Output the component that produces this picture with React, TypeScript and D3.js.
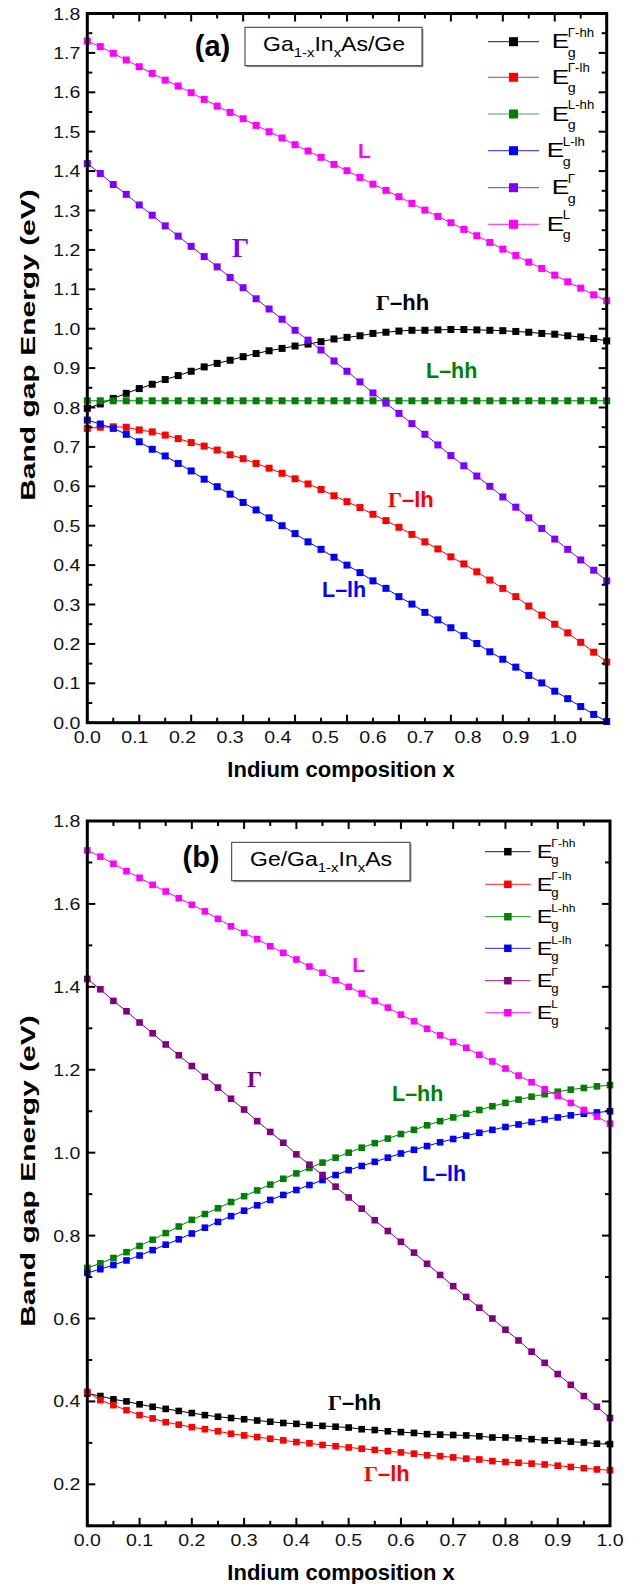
import React from "react";
import * as d3 from "d3";

// ---------- data ----------
const composition = [
  0, 0.025, 0.05, 0.075, 0.1, 0.125, 0.15, 0.175, 0.2, 0.225, 0.25, 0.275, 0.3, 0.325, 0.35, 0.375, 0.4,
  0.425, 0.45, 0.475, 0.5, 0.525, 0.55, 0.575, 0.6, 0.625, 0.65, 0.675, 0.7, 0.725, 0.75, 0.775, 0.8,
  0.825, 0.85, 0.875, 0.9, 0.925, 0.95, 0.975, 1.0,
];

// panel (a) Ga1-xInxAs/Ge
const aGhh = [0.798, 0.809, 0.823, 0.836, 0.848, 0.859, 0.871, 0.881, 0.892, 0.903, 0.912, 0.92, 0.929, 0.937, 0.944, 0.95, 0.956, 0.961, 0.967, 0.974, 0.978, 0.982, 0.988, 0.991, 0.994, 0.996, 0.996, 0.997, 0.998, 0.998, 0.997, 0.996, 0.995, 0.993, 0.991, 0.988, 0.986, 0.982, 0.979, 0.975, 0.969];
const aGlh = [0.747, 0.75, 0.751, 0.75, 0.743, 0.738, 0.73, 0.721, 0.711, 0.702, 0.692, 0.68, 0.67, 0.658, 0.646, 0.633, 0.619, 0.606, 0.592, 0.576, 0.561, 0.546, 0.529, 0.513, 0.496, 0.478, 0.459, 0.441, 0.421, 0.403, 0.383, 0.362, 0.341, 0.32, 0.296, 0.273, 0.25, 0.228, 0.204, 0.179, 0.154];
const aLhh = [0.817, 0.817, 0.817, 0.817, 0.817, 0.817, 0.817, 0.817, 0.817, 0.817, 0.817, 0.817, 0.817, 0.817, 0.817, 0.817, 0.817, 0.817, 0.817, 0.817, 0.817, 0.817, 0.817, 0.817, 0.817, 0.817, 0.817, 0.817, 0.817, 0.817, 0.817, 0.817, 0.817, 0.817, 0.817, 0.817, 0.817, 0.817, 0.817, 0.817, 0.817];
const aLlh = [0.768, 0.758, 0.747, 0.732, 0.713, 0.694, 0.677, 0.658, 0.639, 0.618, 0.599, 0.58, 0.559, 0.54, 0.52, 0.5, 0.48, 0.459, 0.44, 0.42, 0.4, 0.381, 0.36, 0.341, 0.32, 0.301, 0.28, 0.261, 0.241, 0.221, 0.201, 0.18, 0.161, 0.141, 0.12, 0.101, 0.08, 0.061, 0.041, 0.021, 0.003];
const aGamma = [1.419, 1.394, 1.366, 1.341, 1.314, 1.288, 1.261, 1.235, 1.209, 1.183, 1.157, 1.13, 1.104, 1.076, 1.05, 1.024, 0.996, 0.971, 0.946, 0.918, 0.892, 0.865, 0.837, 0.811, 0.785, 0.759, 0.732, 0.705, 0.678, 0.652, 0.626, 0.6, 0.573, 0.547, 0.52, 0.493, 0.466, 0.44, 0.413, 0.387, 0.36];
const aL = [1.73, 1.716, 1.699, 1.682, 1.665, 1.648, 1.631, 1.616, 1.599, 1.582, 1.565, 1.549, 1.533, 1.516, 1.5, 1.484, 1.467, 1.451, 1.435, 1.417, 1.401, 1.384, 1.367, 1.351, 1.335, 1.318, 1.301, 1.285, 1.269, 1.252, 1.236, 1.219, 1.202, 1.186, 1.169, 1.153, 1.136, 1.119, 1.103, 1.086, 1.071];

// panel (b) Ge/Ga1-xInxAs
const bGhh = [0.419, 0.413, 0.405, 0.4, 0.393, 0.387, 0.382, 0.377, 0.372, 0.367, 0.363, 0.36, 0.357, 0.354, 0.351, 0.348, 0.346, 0.343, 0.341, 0.339, 0.337, 0.333, 0.331, 0.328, 0.326, 0.324, 0.321, 0.32, 0.319, 0.318, 0.316, 0.313, 0.313, 0.311, 0.309, 0.306, 0.305, 0.303, 0.301, 0.298, 0.297];
const bGlh = [0.423, 0.403, 0.391, 0.379, 0.367, 0.359, 0.35, 0.344, 0.338, 0.333, 0.328, 0.322, 0.318, 0.314, 0.31, 0.306, 0.302, 0.299, 0.295, 0.292, 0.289, 0.286, 0.283, 0.28, 0.277, 0.274, 0.27, 0.268, 0.265, 0.262, 0.26, 0.256, 0.254, 0.252, 0.25, 0.248, 0.245, 0.242, 0.239, 0.236, 0.234];
const bLhh = [0.722, 0.733, 0.746, 0.76, 0.775, 0.79, 0.806, 0.822, 0.838, 0.852, 0.866, 0.881, 0.895, 0.909, 0.923, 0.937, 0.95, 0.963, 0.976, 0.988, 1.0, 1.012, 1.023, 1.034, 1.045, 1.055, 1.066, 1.076, 1.085, 1.094, 1.103, 1.112, 1.12, 1.128, 1.135, 1.141, 1.147, 1.152, 1.156, 1.16, 1.163];
const bLlh = [0.71, 0.719, 0.729, 0.74, 0.752, 0.765, 0.778, 0.791, 0.805, 0.819, 0.833, 0.847, 0.86, 0.873, 0.886, 0.898, 0.91, 0.922, 0.934, 0.946, 0.958, 0.968, 0.978, 0.988, 0.998, 1.007, 1.016, 1.025, 1.033, 1.041, 1.048, 1.055, 1.062, 1.068, 1.074, 1.08, 1.085, 1.09, 1.094, 1.097, 1.1];
const bGamma = [1.419, 1.394, 1.366, 1.341, 1.314, 1.288, 1.261, 1.235, 1.209, 1.183, 1.157, 1.13, 1.104, 1.076, 1.05, 1.024, 0.996, 0.971, 0.946, 0.918, 0.892, 0.865, 0.837, 0.811, 0.785, 0.759, 0.732, 0.705, 0.678, 0.652, 0.626, 0.6, 0.573, 0.547, 0.52, 0.493, 0.466, 0.44, 0.413, 0.387, 0.36];
const bL = [1.729, 1.714, 1.697, 1.679, 1.663, 1.646, 1.63, 1.614, 1.598, 1.582, 1.564, 1.546, 1.53, 1.515, 1.498, 1.482, 1.466, 1.449, 1.434, 1.416, 1.4, 1.384, 1.366, 1.35, 1.333, 1.317, 1.299, 1.283, 1.267, 1.253, 1.236, 1.22, 1.203, 1.186, 1.17, 1.153, 1.137, 1.12, 1.103, 1.087, 1.07];

const seriesSup = ["\u0393-hh", "\u0393-lh", "L-hh", "L-lh", "\u0393", "L"];
const colorsA = ["#000000", "#ff0000", "#008000", "#0000ff", "#8000ff", "#ff00ff"];
const colorsB = ["#000000", "#ff0000", "#008000", "#0000ff", "#800080", "#ff00ff"];

const xTickLabels = ["0.0", "0.1", "0.2", "0.3", "0.4", "0.5", "0.6", "0.7", "0.8", "0.9", "1.0"];
const xTickValues = [0, 0.1, 0.2, 0.3, 0.4, 0.5, 0.6, 0.7, 0.8, 0.9, 1.0];
const yTickValuesA = [0, 0.1, 0.2, 0.3, 0.4, 0.5, 0.6, 0.7, 0.8, 0.9, 1.0, 1.1, 1.2, 1.3, 1.4, 1.5, 1.6, 1.7, 1.8];
const yTickValuesB = [0.2, 0.4, 0.6, 0.8, 1.0, 1.2, 1.4, 1.6, 1.8];

// ---------- styling ----------
const SANS = "'Liberation Sans', Arial, Helvetica, sans-serif";
const SERIF = "'Liberation Serif', 'Times New Roman', serif";

type Cfg = {
  left: number; right: number; top: number; bottom: number;
  yDomain: [number, number]; yTicks: number[]; yMinorStep: number; yMajorStep: number;
  xLabelMax: number; marker: number; yTitleY: number;
};

const cfgA: Cfg = { left: 87.3, right: 606.7, top: 13.5, bottom: 722.7, yDomain: [0, 1.8], yTicks: yTickValuesA, yMinorStep: 0.05, yMajorStep: 0.1, xLabelMax: 1.091, marker: 7, yTitleY: 345 };
const cfgB: Cfg = { left: 87.3, right: 610, top: 821, bottom: 1525.8, yDomain: [0.1, 1.8], yTicks: yTickValuesB, yMinorStep: 0.1, yMajorStep: 0.2, xLabelMax: 1.0, marker: 6.6, yTitleY: 1171 };

function ST(props: any) {
  const { x, y, sx = 1, rotate = 0, children, ...rest } = props;
  return (
    <text transform={`translate(${x},${y}) rotate(${rotate}) scale(${sx},1)`} fontFamily={SANS} {...rest}>
      {children}
    </text>
  );
}

function Panel({ cfg, data, colors }: { cfg: Cfg; data: number[][]; colors: string[] }) {
  const x = d3.scaleLinear().domain([0, 1]).range([cfg.left, cfg.right]);
  const xl = d3.scaleLinear().domain([0, cfg.xLabelMax]).range([cfg.left, cfg.right]);
  const y = d3.scaleLinear().domain(cfg.yDomain).range([cfg.bottom, cfg.top]);
  const line = d3.line<number>().x((_, i) => x(composition[i])).y((d) => y(d));

  const xTicks = d3.range(0, 21).map((i) => ({ v: i * 0.05, major: i % 2 === 0 }));
  const nY = Math.round((cfg.yDomain[1] - cfg.yDomain[0]) / cfg.yMinorStep);
  const yTicks = d3.range(0, nY + 1).map((i) => {
    const v = cfg.yDomain[0] + i * cfg.yMinorStep;
    const r = v / cfg.yMajorStep;
    return { v, major: Math.abs(r - Math.round(r)) < 1e-6 };
  });
  const M = 8, m = 5;
  const s = cfg.marker;
  return (
    <g>
      {data.map((vals, k) => (
        <g key={k}>
          <path d={line(vals) || ""} fill="none" stroke={colors[k]} strokeWidth={1} />
          {vals.map((v, i) => (
            <rect key={i} x={x(composition[i]) - s / 2} y={y(v) - s / 2} width={s} height={s} fill={colors[k]} />
          ))}
        </g>
      ))}
      {xTicks.map((t, i) => (
        <g key={"xt" + i} stroke="#000" strokeWidth={2}>
          <line x1={x(t.v)} x2={x(t.v)} y1={cfg.bottom} y2={cfg.bottom - (t.major ? M : m)} />
          <line x1={x(t.v)} x2={x(t.v)} y1={cfg.top} y2={cfg.top + (t.major ? M : m)} />
        </g>
      ))}
      {yTicks.map((t, i) => (
        <g key={"yt" + i} stroke="#000" strokeWidth={2}>
          <line x1={cfg.left} x2={cfg.left + (t.major ? M : m)} y1={y(t.v)} y2={y(t.v)} />
          <line x1={cfg.right} x2={cfg.right - (t.major ? M : m)} y1={y(t.v)} y2={y(t.v)} />
        </g>
      ))}
      <rect x={cfg.left} y={cfg.top} width={cfg.right - cfg.left} height={cfg.bottom - cfg.top} fill="none" stroke="#000" strokeWidth={3} />
      {xTickValues.map((v, i) => (
        <ST key={"xl" + i} x={xl(v)} y={cfg.bottom + 20} sx={1.15} fontSize={17} textAnchor="middle" fill="#111">
          {xTickLabels[i]}
        </ST>
      ))}
      {cfg.yTicks.map((v, i) => (
        <ST key={"yl" + i} x={cfg.left - 7} y={y(v) + 6} sx={1.15} fontSize={17} textAnchor="end" fill="#111">
          {v.toFixed(1)}
        </ST>
      ))}
      <ST x={341} y={cfg.bottom + 54} fontSize={22} fontWeight="bold" textAnchor="middle">Indium composition x</ST>
      <ST x={35} y={cfg.yTitleY} rotate={-90} sx={1.5} fontSize={20} fontWeight="bold" textAnchor="middle">Band gap Energy (eV)</ST>
    </g>
  );
}

function Legend({ x1, x2, ys, ex, fs, ss, colors, marker, supDy, subDy, eDy, exShift }: any) {
  return (
    <g>
      {seriesSup.map((sup, i) => {
        const yy = ys[i];
        const exx = ex + (exShift ? exShift[i] : 0);
        return (
          <g key={i}>
            <line x1={x1} x2={x2} y1={yy} y2={yy} stroke={colors[i]} strokeOpacity={0.7} strokeWidth={1.2} />
            <rect x={(x1 + x2) / 2 - marker / 2} y={yy - marker / 2} width={marker} height={marker} fill={colors[i]} />
            <ST x={exx} y={yy + eDy} sx={1.25} fontSize={fs} fill="#000">E</ST>
            <ST x={exx + fs * 0.667 * 1.15} y={yy + supDy} sx={1.1} fontSize={ss} fill="#000">{sup}</ST>
            <ST x={exx + fs * 0.667 * 1.15} y={yy + subDy} sx={1.1} fontSize={ss + 1} fill="#000">g</ST>
          </g>
        );
      })}
    </g>
  );
}

function Box({ x, y, w, h }: any) {
  return (
    <g>
      <rect x={x + 1.5} y={y + 1.5} width={w} height={h} fill="#999" />
      <rect x={x} y={y} width={w} height={h} fill="#fff" stroke="#333" strokeWidth={1} />
    </g>
  );
}

function Lab({ x, y, color, g, rest, size = 21 }: any) {
  return (
    <text x={x} y={y} fill={color} fontSize={size} fontWeight="bold" fontFamily={SANS}>
      {g ? <tspan fontFamily={SERIF}>{"\u0393"}</tspan> : null}
      {rest}
    </text>
  );
}

export default function App() {
  const dataA = [aGhh, aGlh, aLhh, aLlh, aGamma, aL];
  const dataB = [bGhh, bGlh, bLhh, bLlh, bGamma, bL];
  return (
    <div style={{ position: "absolute", left: 0, top: 0 }}>
      <svg width={640} height={1584} viewBox="0 0 640 1584" style={{ display: "block", background: "#fff" }}>
        <rect width={640} height={1584} fill="#fff" />
        <Panel cfg={cfgA} data={dataA} colors={colorsA} />
        <Panel cfg={cfgB} data={dataB} colors={colorsB} />

        <ST x={212.5} y={55.5} fontSize={29} fontWeight="bold" textAnchor="middle">(a)</ST>
        <Box x={245} y={27.3} w={177} h={38.4} />
        <ST x={263} y={50.5} sx={1.15} fontSize={20}>
          Ga<tspan fontSize={13} dy={6}>1-x</tspan><tspan dy={-6}>In</tspan><tspan fontSize={13} dy={6}>x</tspan><tspan dy={-6}>As/Ge</tspan>
        </ST>
        <Legend x1={488} x2={539} ys={[41.7, 77.3, 114, 150.7, 187.7, 224.3]} ex={551.7} exShift={[0, 0, 0, -5, 0, -5]} fs={21} ss={12} colors={colorsA} marker={9} supDy={-5} subDy={15} eDy={6.6} />
        <Lab x={358} y={158} color="#ff00ff" rest="L" />
        <Lab x={232} y={256.7} color="#8000ff" g size={27} rest="" />
        <Lab x={376} y={310} color="#000" g size={22} rest={"\u2013hh"} />
        <Lab x={426} y={378.3} color="#008000" size={21.5} rest={"L\u2013hh"} />
        <Lab x={388} y={506.7} color="#ff0000" g size={22} rest={"\u2013lh"} />
        <Lab x={322} y={597} color="#0000ff" size={21.5} rest={"L\u2013lh"} />

        <ST x={201} y={867} fontSize={29} fontWeight="bold" textAnchor="middle">(b)</ST>
        <Box x={231.7} y={842.3} w={178.3} h={38.4} />
        <ST x={250} y={866} sx={1.15} fontSize={20}>
          Ge/Ga<tspan fontSize={13} dy={6}>1-x</tspan><tspan dy={-6}>In</tspan><tspan fontSize={13} dy={6}>x</tspan><tspan dy={-6}>As</tspan>
        </ST>
        <Legend x1={485} x2={530.7} ys={[851.7, 884.3, 916.7, 948.3, 980.7, 1012.7]} ex={536.7} fs={19} ss={11} colors={colorsB} marker={7.5} supDy={-4.4} subDy={12.5} eDy={6.6} />
        <Lab x={352.3} y={971.7} color="#ff00ff" rest="L" />
        <Lab x={247} y={1087} color="#800080" g size={24} rest="" />
        <Lab x={392} y={1101} color="#008000" size={21.5} rest={"L\u2013hh"} />
        <Lab x={422} y={1181} color="#0000ff" size={21.5} rest={"L\u2013lh"} />
        <Lab x={328} y={1410} color="#000" g size={22} rest={"\u2013hh"} />
        <Lab x={364} y={1481} color="#ff0000" g size={22} rest={"\u2013lh"} />
      </svg>
    </div>
  );
}
